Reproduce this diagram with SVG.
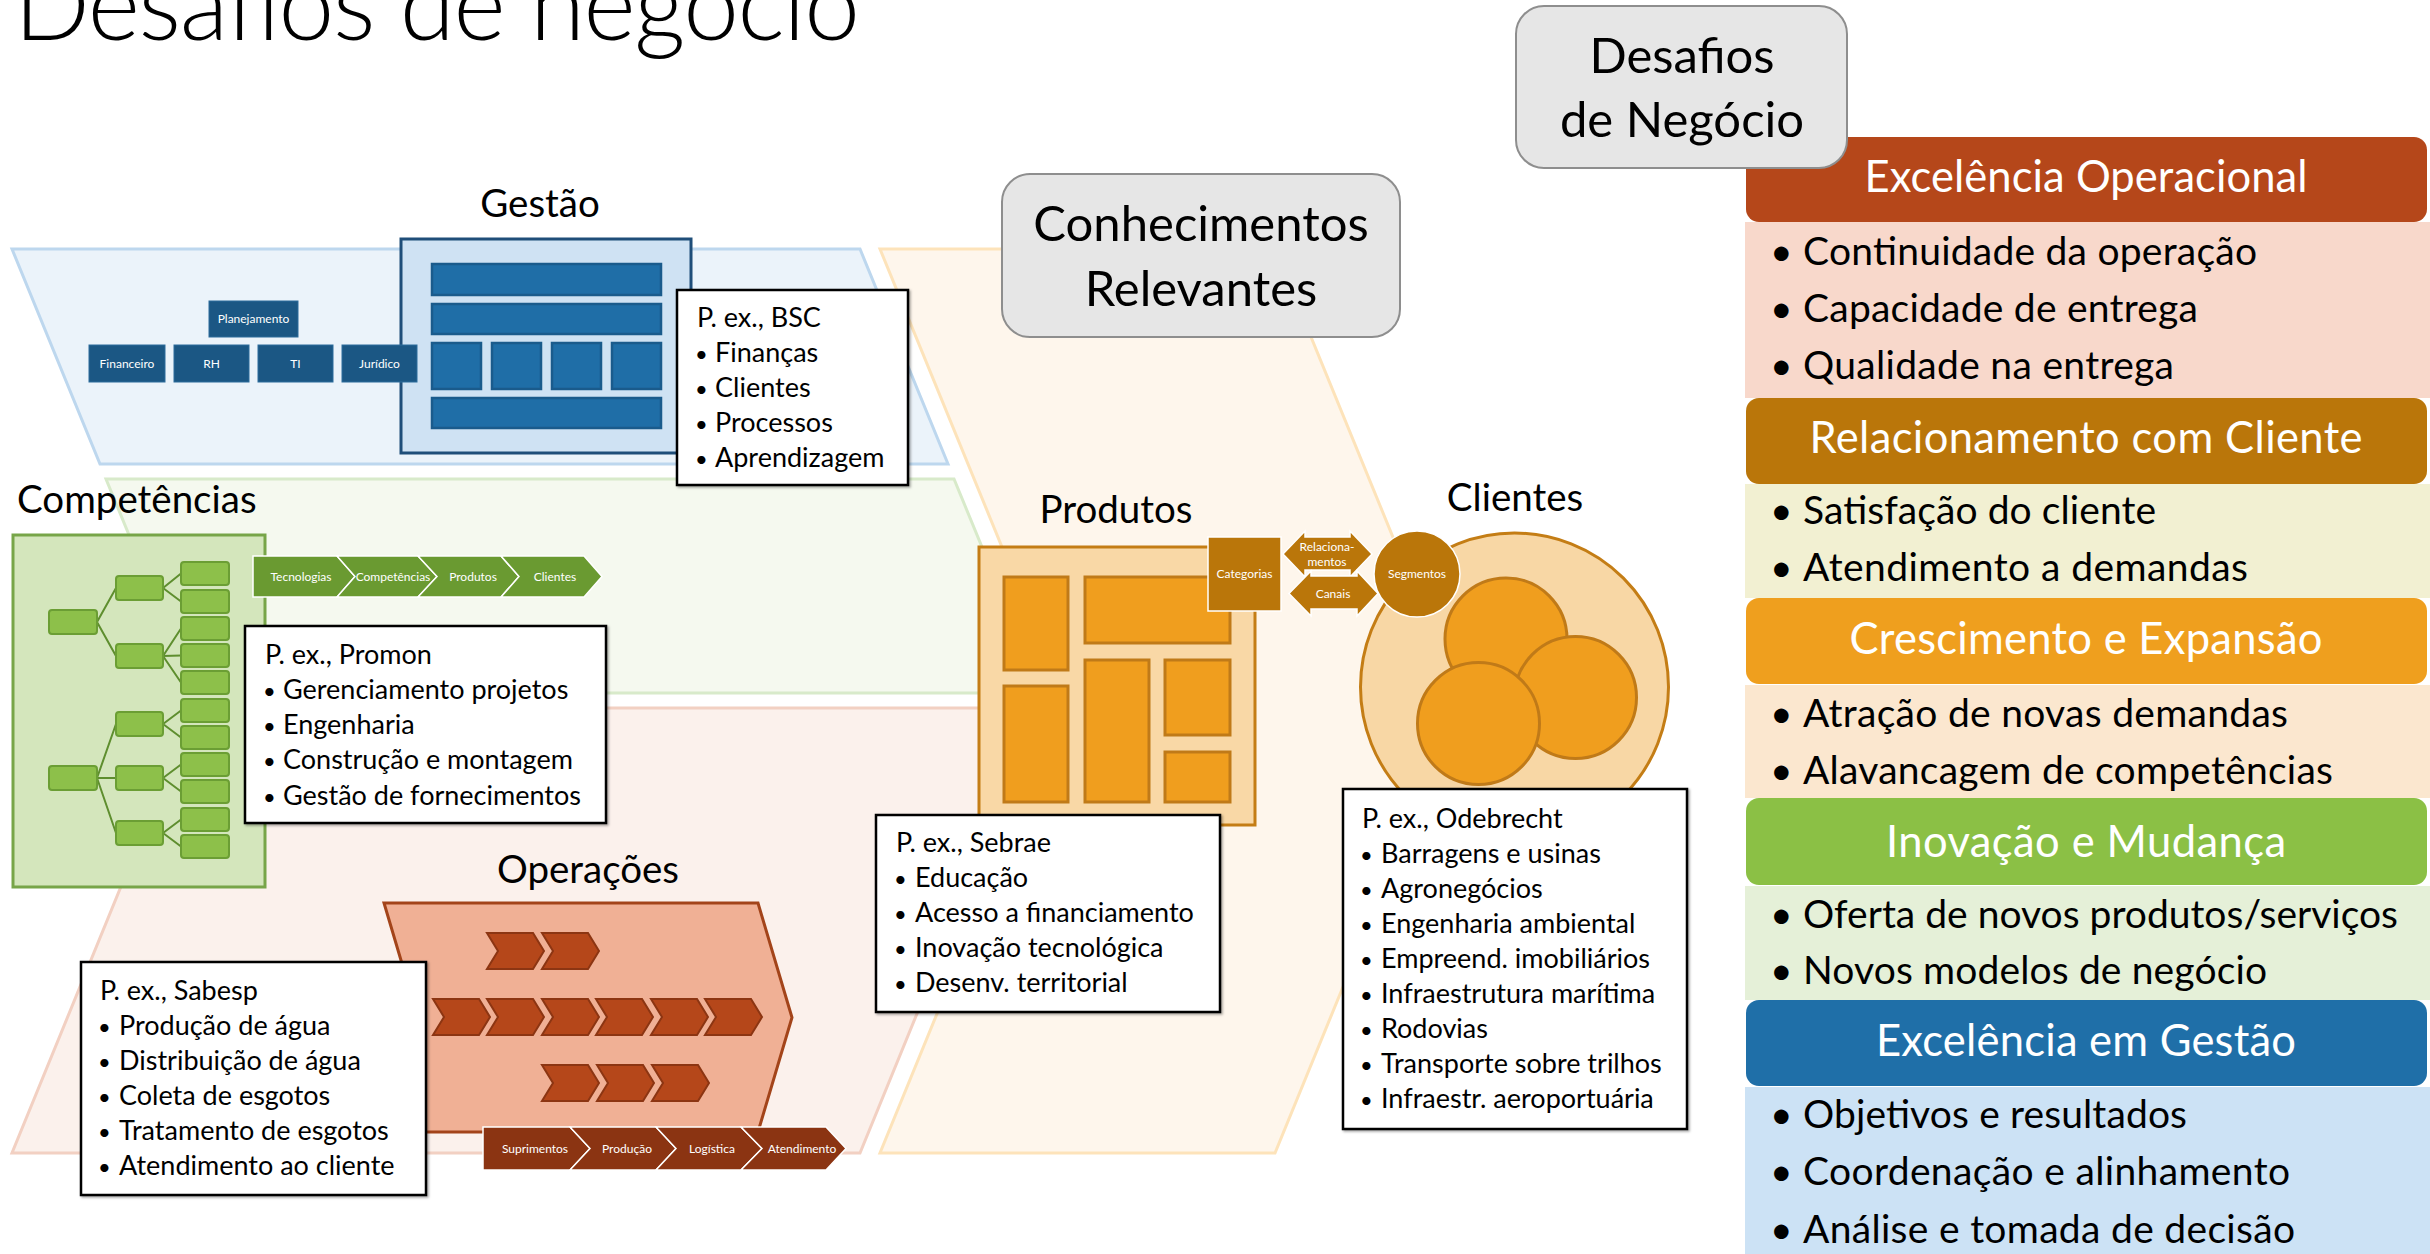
<svg xmlns="http://www.w3.org/2000/svg" width="2430" height="1254" viewBox="0 0 2430 1254">
<style>
text{font-family:Lato,"Open Sans","Liberation Sans",sans-serif;fill:#000}
.h{font-size:38.5px;text-anchor:middle}
.bt{font-size:27px}
.bu{font-size:22px}
.big{font-size:49px;text-anchor:middle}
.sm{font-size:12px;fill:#fff;text-anchor:middle}
.hd{font-size:43.5px;fill:#fff;text-anchor:middle}
.it{font-size:39px}
.box{fill:#fff;stroke:#000;stroke-width:2.5;filter:url(#sh)}
.tn{fill:#8DC04A;stroke:#6B9E34;stroke-width:2}
.org{fill:#1B5784;stroke:#2D6C9B;stroke-width:1}
.bar{fill:#1F6EA7;stroke:#1A5B8C;stroke-width:2.5}
.pr{fill:#F09E1E;stroke:#C07A18;stroke-width:3}
.ochev{fill:#B5471A;stroke:#8C3512;stroke-width:2}
.round{fill:#E6E6E6;stroke:#8E8E8E;stroke-width:2}
</style>
<defs>
<path id="chev" d="M0,0 H46 L57,18 L46,36 H0 L11,18 Z"/>
<filter id="sh" x="-5%" y="-5%" width="115%" height="115%">
<feDropShadow dx="1.5" dy="1.5" stdDeviation="1" flood-color="#000" flood-opacity="0.35"/>
</filter>
</defs>

<text x="14" y="40" font-size="100" font-weight="300" textLength="846">Desafios de negócio</text>

<g id="panels">
<polygon points="12,249 860,249 948,464 100,464" fill="#EBF3FA" stroke="#BDD7EE" stroke-width="3"/>
<polygon points="106,479 954,479 1042,693 194,693" fill="#F5F9EF" stroke="#D8EACA" stroke-width="3"/>
<polygon points="194,708 1042,708 860,1153 12,1153" fill="#FBF1EC" stroke="#F2D0C2" stroke-width="3"/>
<polygon points="880,249 1275,249 1460,701 1275,1153 880,1153 1065,701" fill="#FEF6EC" stroke="#FDE3BA" stroke-width="3"/>
</g>

<g id="gestao">
<text class="h" x="540" y="217">Gestão</text>
<rect x="401" y="239" width="290" height="214" fill="#CFE2F3" stroke="#1F4E79" stroke-width="3"/>
<rect class="bar" x="432" y="264" width="229" height="31"/>
<rect class="bar" x="432" y="304" width="229" height="30"/>
<rect class="bar" x="432" y="343" width="49" height="46"/>
<rect class="bar" x="492" y="343" width="49" height="46"/>
<rect class="bar" x="552" y="343" width="49" height="46"/>
<rect class="bar" x="612" y="343" width="49" height="46"/>
<rect class="bar" x="432" y="398" width="229" height="30"/>
<rect class="org" x="209" y="301" width="89" height="36"/>
<text class="sm" x="253.5" y="323">Planejamento</text>
<rect class="org" x="89" y="345" width="76" height="37"/>
<text class="sm" x="127" y="368">Financeiro</text>
<rect class="org" x="174" y="345" width="75" height="37"/>
<text class="sm" x="211.5" y="368">RH</text>
<rect class="org" x="258" y="345" width="75" height="37"/>
<text class="sm" x="295.5" y="368">TI</text>
<rect class="org" x="342" y="345" width="75" height="37"/>
<text class="sm" x="379.5" y="368">Jurídico</text>
</g>
<g id="bsc">
<rect class="box" x="677" y="290" width="231" height="195"/>
<text class="bt" x="697" y="327">P. ex., BSC</text>
<text class="bt" y="362"><tspan class="bu" x="695">•</tspan><tspan x="715">Finanças</tspan></text>
<text class="bt" y="397"><tspan class="bu" x="695">•</tspan><tspan x="715">Clientes</tspan></text>
<text class="bt" y="432"><tspan class="bu" x="695">•</tspan><tspan x="715">Processos</tspan></text>
<text class="bt" y="467"><tspan class="bu" x="695">•</tspan><tspan x="715">Aprendizagem</tspan></text>
</g>

<g id="competencias">
<text x="17" y="513" font-size="38.5">Competências</text>
<rect x="13" y="535" width="252" height="352" fill="#D4E6BC" stroke="#77A548" stroke-width="3"/>
<g id="tree-connectors" stroke="#5E8E2E" stroke-width="2" fill="none">
<path d="M97,622 L116,588 M97,622 L116,656 M97,778 L116,724 M97,778 L116,778 M97,778 L116,833"/>
<path d="M163,588 L181,573.5 M163,588 L181,601.5 M163,656 L181,628.5 M163,656 L181,655.5 M163,656 L181,682.5 M163,724 L181,710.5 M163,724 L181,737.5 M163,778 L181,764.5 M163,778 L181,791.5 M163,833 L181,819.5 M163,833 L181,846.5"/>
</g>
<rect class="tn" x="49" y="610" width="48" height="24" rx="3"/>
<rect class="tn" x="49" y="766" width="48" height="24" rx="3"/>
<rect class="tn" x="116" y="576" width="47" height="24" rx="3"/>
<rect class="tn" x="116" y="644" width="47" height="24" rx="3"/>
<rect class="tn" x="116" y="712" width="47" height="24" rx="3"/>
<rect class="tn" x="116" y="766" width="47" height="24" rx="3"/>
<rect class="tn" x="116" y="821" width="47" height="24" rx="3"/>
<rect class="tn" x="181" y="562" width="48" height="23" rx="3"/>
<rect class="tn" x="181" y="590" width="48" height="23" rx="3"/>
<rect class="tn" x="181" y="617" width="48" height="23" rx="3"/>
<rect class="tn" x="181" y="644" width="48" height="23" rx="3"/>
<rect class="tn" x="181" y="671" width="48" height="23" rx="3"/>
<rect class="tn" x="181" y="699" width="48" height="23" rx="3"/>
<rect class="tn" x="181" y="726" width="48" height="23" rx="3"/>
<rect class="tn" x="181" y="753" width="48" height="23" rx="3"/>
<rect class="tn" x="181" y="780" width="48" height="23" rx="3"/>
<rect class="tn" x="181" y="808" width="48" height="23" rx="3"/>
<rect class="tn" x="181" y="835" width="48" height="23" rx="3"/>
</g>
<g id="comp-chain" fill="#6A9A31" stroke="#fff" stroke-width="1.5">
<path d="M253,556 H337 L355,576.5 L337,597 H253 Z"/>
<path d="M337,556 H418 L437,576.5 L418,597 H337 L355,576.5 Z"/>
<path d="M418,556 H501 L519,576.5 L501,597 H418 L437,576.5 Z"/>
<path d="M501,556 H584 L602,576.5 L584,597 H501 L519,576.5 Z"/>
<text class="sm" x="301" y="581" stroke="none">Tecnologias</text>
<text class="sm" x="393" y="581" stroke="none">Competências</text>
<text class="sm" x="473" y="581" stroke="none">Produtos</text>
<text class="sm" x="555" y="581" stroke="none">Clientes</text>
</g>
<g id="promon">
<rect class="box" x="245" y="626" width="361" height="197"/>
<text class="bt" x="265" y="664">P. ex., Promon</text>
<text class="bt" y="699"><tspan class="bu" x="263">•</tspan><tspan x="283">Gerenciamento projetos</tspan></text>
<text class="bt" y="734"><tspan class="bu" x="263">•</tspan><tspan x="283">Engenharia</tspan></text>
<text class="bt" y="769"><tspan class="bu" x="263">•</tspan><tspan x="283">Construção e montagem</tspan></text>
<text class="bt" y="805"><tspan class="bu" x="263">•</tspan><tspan x="283">Gestão de fornecimentos</tspan></text>
</g>

<g id="operacoes">
<text class="h" x="588" y="883">Operações</text>
<path d="M384,903 H758 L792,1017.5 L758,1132 H384 L418,1017.5 Z" fill="#F0B095" stroke="#A3441A" stroke-width="3"/>
<use href="#chev" class="ochev" x="487" y="933"/>
<use href="#chev" class="ochev" x="542" y="933"/>
<use href="#chev" class="ochev" x="433" y="999"/>
<use href="#chev" class="ochev" x="487" y="999"/>
<use href="#chev" class="ochev" x="542" y="999"/>
<use href="#chev" class="ochev" x="596" y="999"/>
<use href="#chev" class="ochev" x="651" y="999"/>
<use href="#chev" class="ochev" x="705" y="999"/>
<use href="#chev" class="ochev" x="542" y="1065"/>
<use href="#chev" class="ochev" x="597" y="1065"/>
<use href="#chev" class="ochev" x="652" y="1065"/>
</g>
<g id="ops-chain" fill="#8B3412" stroke="#fff" stroke-width="1.5">
<path d="M483,1127 H570 L590,1148.5 L570,1170 H483 Z"/>
<path d="M570,1127 H656 L676,1148.5 L656,1170 H570 L590,1148.5 Z"/>
<path d="M656,1127 H741 L762,1148.5 L741,1170 H656 L676,1148.5 Z"/>
<path d="M741,1127 H826 L846,1148.5 L826,1170 H741 L762,1148.5 Z"/>
<text class="sm" x="535" y="1153" stroke="none">Suprimentos</text>
<text class="sm" x="627" y="1153" stroke="none">Produção</text>
<text class="sm" x="712" y="1153" stroke="none">Logística</text>
<text class="sm" x="802" y="1153" stroke="none">Atendimento</text>
</g>
<g id="sabesp">
<rect class="box" x="81" y="962" width="345" height="233"/>
<text class="bt" x="100" y="1000">P. ex., Sabesp</text>
<text class="bt" y="1035"><tspan class="bu" x="98">•</tspan><tspan x="119">Produção de água</tspan></text>
<text class="bt" y="1070"><tspan class="bu" x="98">•</tspan><tspan x="119">Distribuição de água</tspan></text>
<text class="bt" y="1105"><tspan class="bu" x="98">•</tspan><tspan x="119">Coleta de esgotos</tspan></text>
<text class="bt" y="1140"><tspan class="bu" x="98">•</tspan><tspan x="119">Tratamento de esgotos</tspan></text>
<text class="bt" y="1175"><tspan class="bu" x="98">•</tspan><tspan x="119">Atendimento ao cliente</tspan></text>
</g>

<g id="conhecimentos">
<rect class="round" x="1002" y="174" width="398" height="163" rx="28"/>
<text class="big" x="1201" y="241">Conhecimentos</text>
<text class="big" x="1201" y="306">Relevantes</text>
</g>

<g id="produtos">
<text class="h" x="1116" y="523">Produtos</text>
<rect x="979" y="547" width="276" height="278" fill="#F9D8A6" stroke="#C47D15" stroke-width="3"/>
<rect class="pr" x="1004" y="577" width="64" height="93"/>
<rect class="pr" x="1085" y="577" width="145" height="66"/>
<rect class="pr" x="1004" y="686" width="64" height="116"/>
<rect class="pr" x="1085" y="660" width="64" height="142"/>
<rect class="pr" x="1165" y="660" width="65" height="75"/>
<rect class="pr" x="1165" y="752" width="65" height="50"/>
</g>

<g id="clientes">
<text class="h" x="1515" y="511">Clientes</text>
<circle cx="1514.5" cy="687" r="154" fill="#F8D7A5" stroke="#C47D15" stroke-width="3"/>
<circle class="pr" cx="1506" cy="639" r="61"/>
<circle class="pr" cx="1575.5" cy="697.5" r="61"/>
<circle class="pr" cx="1478.5" cy="723.5" r="61"/>
</g>

<g id="links" fill="#BA760A" stroke="#fff" stroke-width="1.5">
<rect x="1208" y="537" width="73" height="74"/>
<text class="sm" x="1244.5" y="578" stroke="none">Categorias</text>
<path d="M1283,554 L1305,531 V537 H1350 V531 L1372,554 L1350,577 V570 H1305 V577 Z"/>
<text class="sm" x="1327" y="551" stroke="none">Relaciona-</text>
<text class="sm" x="1327" y="566" stroke="none">mentos</text>
<path d="M1289,593.5 L1311,571 V576 H1357 V571 L1378,593.5 L1357,616 V609 H1311 V616 Z"/>
<text class="sm" x="1333" y="598" stroke="none">Canais</text>
<circle cx="1417" cy="574" r="43"/>
<text class="sm" x="1417" y="578" stroke="none">Segmentos</text>
</g>

<g id="sebrae">
<rect class="box" x="876" y="815" width="344" height="197"/>
<text class="bt" x="896" y="852">P. ex., Sebrae</text>
<text class="bt" y="887"><tspan class="bu" x="894">•</tspan><tspan x="915">Educação</tspan></text>
<text class="bt" y="922"><tspan class="bu" x="894">•</tspan><tspan x="915">Acesso a financiamento</tspan></text>
<text class="bt" y="957"><tspan class="bu" x="894">•</tspan><tspan x="915">Inovação tecnológica</tspan></text>
<text class="bt" y="992"><tspan class="bu" x="894">•</tspan><tspan x="915">Desenv. territorial</tspan></text>
</g>

<g id="odebrecht">
<rect class="box" x="1343" y="789" width="344" height="340"/>
<text class="bt" x="1362" y="828">P. ex., Odebrecht</text>
<text class="bt" y="863"><tspan class="bu" x="1360">•</tspan><tspan x="1381">Barragens e usinas</tspan></text>
<text class="bt" y="898"><tspan class="bu" x="1360">•</tspan><tspan x="1381">Agronegócios</tspan></text>
<text class="bt" y="933"><tspan class="bu" x="1360">•</tspan><tspan x="1381">Engenharia ambiental</tspan></text>
<text class="bt" y="968"><tspan class="bu" x="1360">•</tspan><tspan x="1381">Empreend. imobiliários</tspan></text>
<text class="bt" y="1003"><tspan class="bu" x="1360">•</tspan><tspan x="1381">Infraestrutura marítima</tspan></text>
<text class="bt" y="1038"><tspan class="bu" x="1360">•</tspan><tspan x="1381">Rodovias</tspan></text>
<text class="bt" y="1073"><tspan class="bu" x="1360">•</tspan><tspan x="1381">Transporte sobre trilhos</tspan></text>
<text class="bt" y="1108"><tspan class="bu" x="1360">•</tspan><tspan x="1381">Infraestr. aeroportuária</tspan></text>
</g>

<g id="desafios-lista">
<rect x="1745" y="222" width="685" height="176" fill="#F8D8CB"/>
<rect x="1745" y="484" width="685" height="114" fill="#F2F0D2"/>
<rect x="1745" y="685" width="685" height="113" fill="#FBE7CF"/>
<rect x="1745" y="886" width="685" height="114" fill="#E5F0D8"/>
<rect x="1745" y="1087" width="685" height="167" fill="#CCE2F5"/>
<rect x="1746" y="137" width="681" height="85" rx="13" fill="#B5471A"/>
<rect x="1746" y="398" width="681" height="86" rx="13" fill="#BA760A"/>
<rect x="1746" y="598" width="681" height="86" rx="13" fill="#EF9F1E"/>
<rect x="1746" y="798" width="681" height="87" rx="13" fill="#8BC045"/>
<rect x="1746" y="1000" width="681" height="86" rx="13" fill="#1F6FA8"/>
<text class="hd" x="2086" y="192" textLength="443">Excelência Operacional</text>
<text class="hd" x="2086" y="453" textLength="553">Relacionamento com Cliente</text>
<text class="hd" x="2086" y="654" textLength="473">Crescimento e Expansão</text>
<text class="hd" x="2086" y="857" textLength="400">Inovação e Mudança</text>
<text class="hd" x="2086" y="1056" textLength="420">Excelência em Gestão</text>
<text class="it" x="1770" y="265">•<tspan x="1803" textLength="454">Continuidade da operação</tspan></text>
<text class="it" x="1770" y="322">•<tspan x="1803" textLength="395">Capacidade de entrega</tspan></text>
<text class="it" x="1770" y="379">•<tspan x="1803" textLength="371">Qualidade na entrega</tspan></text>
<text class="it" x="1770" y="524">•<tspan x="1803" textLength="353">Satisfação do cliente</tspan></text>
<text class="it" x="1770" y="581">•<tspan x="1803" textLength="445">Atendimento a demandas</tspan></text>
<text class="it" x="1770" y="727">•<tspan x="1803" textLength="485">Atração de novas demandas</tspan></text>
<text class="it" x="1770" y="784">•<tspan x="1803" textLength="530">Alavancagem de competências</tspan></text>
<text class="it" x="1770" y="928">•<tspan x="1803" textLength="595">Oferta de novos produtos/serviços</tspan></text>
<text class="it" x="1770" y="984">•<tspan x="1803" textLength="464">Novos modelos de negócio</tspan></text>
<text class="it" x="1770" y="1128">•<tspan x="1803" textLength="384">Objetivos e resultados</tspan></text>
<text class="it" x="1770" y="1185">•<tspan x="1803" textLength="487">Coordenação e alinhamento</tspan></text>
<text class="it" x="1770" y="1243">•<tspan x="1803" textLength="492">Análise e tomada de decisão</tspan></text>
</g>

<g id="desafios-negocio">
<rect class="round" x="1516" y="6" width="331" height="162" rx="28"/>
<text class="big" x="1682" y="73">Desafios</text>
<text class="big" x="1682" y="137">de Negócio</text>
</g>
</svg>
